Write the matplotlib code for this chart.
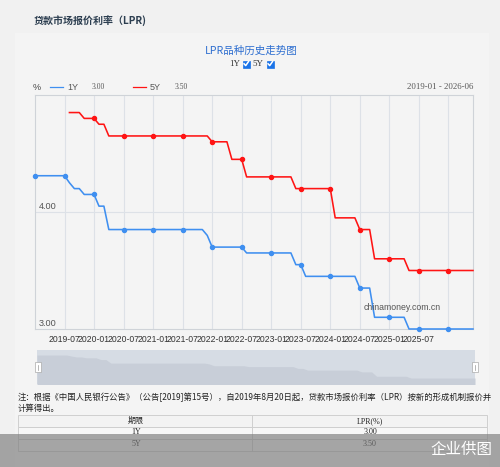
import numpy as np
import pandas as pd
import matplotlib
matplotlib.use('Agg')
import matplotlib.pyplot as plt
from matplotlib.patches import Rectangle
from matplotlib.lines import Line2D

plt.rcParams['font.family'] = ['Liberation Sans', 'Noto Sans CJK SC', 'DejaVu Sans']
CJK = ['Noto Sans CJK SC', 'DejaVu Sans']
SERIF = ['Liberation Serif', 'Noto Sans CJK SC']

# monthly LPR (%), 2019-01 .. 2026-06
months = pd.period_range('2019-01', '2026-06', freq='M')
lpr_1y = [
    4.31, 4.31, 4.31, 4.31, 4.31, 4.31, 4.31, 4.25, 4.20, 4.20, 4.15, 4.15,  # 2019
    4.15, 4.05, 4.05, 3.85, 3.85, 3.85, 3.85, 3.85, 3.85, 3.85, 3.85, 3.85,  # 2020
    3.85, 3.85, 3.85, 3.85, 3.85, 3.85, 3.85, 3.85, 3.85, 3.85, 3.85, 3.80,  # 2021
    3.70, 3.70, 3.70, 3.70, 3.70, 3.70, 3.70, 3.65, 3.65, 3.65, 3.65, 3.65,  # 2022
    3.65, 3.65, 3.65, 3.65, 3.65, 3.55, 3.55, 3.45, 3.45, 3.45, 3.45, 3.45,  # 2023
    3.45, 3.45, 3.45, 3.45, 3.45, 3.45, 3.35, 3.35, 3.35, 3.10, 3.10, 3.10,  # 2024
    3.10, 3.10, 3.10, 3.10, 3.00, 3.00, 3.00, 3.00, 3.00, 3.00, 3.00, 3.00,  # 2025
    3.00, 3.00, 3.00, 3.00, 3.00, 3.00,                                      # 2026
]
nan = np.nan
lpr_5y = [
    nan, nan, nan, nan, nan, nan, nan, 4.85, 4.85, 4.85, 4.80, 4.80,         # 2019
    4.80, 4.75, 4.75, 4.65, 4.65, 4.65, 4.65, 4.65, 4.65, 4.65, 4.65, 4.65,  # 2020
    4.65, 4.65, 4.65, 4.65, 4.65, 4.65, 4.65, 4.65, 4.65, 4.65, 4.65, 4.65,  # 2021
    4.60, 4.60, 4.60, 4.60, 4.45, 4.45, 4.45, 4.30, 4.30, 4.30, 4.30, 4.30,  # 2022
    4.30, 4.30, 4.30, 4.30, 4.30, 4.20, 4.20, 4.20, 4.20, 4.20, 4.20, 4.20,  # 2023
    4.20, 3.95, 3.95, 3.95, 3.95, 3.95, 3.85, 3.85, 3.85, 3.60, 3.60, 3.60,  # 2024
    3.60, 3.60, 3.60, 3.60, 3.50, 3.50, 3.50, 3.50, 3.50, 3.50, 3.50, 3.50,  # 2025
    3.50, 3.50, 3.50, 3.50, 3.50, 3.50,                                      # 2026
]
series_names = ['1Y', '5Y']
series_colors = ['#3f8ff0', '#ff1414']

W, H = 500, 467
fig = plt.figure(figsize=(W / 100, H / 100), dpi=100)
fig.patch.set_facecolor('#f1f1f1')


def fx(x):
    return x / W


def fy(y):
    return 1 - y / H


def T(x, y, s, **kw):
    return fig.text(fx(x), fy(y), s, **kw)


# inner panel
fig.patches.append(Rectangle((fx(15), 0), fx(474), fy(33), transform=fig.transFigure,
                             facecolor='#f4f4f4', edgecolor='none', zorder=-10))

T(34, 21, '贷款市场报价利率（LPR)', family=CJK, fontsize=7.2, color='#2c3e50',
  weight='bold', va='center')
T(251, 50.5, 'LPR品种历史走势图', family=CJK, fontsize=7.6, color='#2f6fd0',
  ha='center', va='center')

# checkbox row
T(240, 64, '1Y', family=SERIF, fontsize=6.5, color='#333333', ha='right', va='center')
T(263, 64, '5Y', family=SERIF, fontsize=6.5, color='#333333', ha='right', va='center')
for bx in (242.5, 266.5):
    fig.patches.append(Rectangle((fx(bx), fy(67.5)), fx(7.5), 7 / H, transform=fig.transFigure,
                                 facecolor='#1a73e8', edgecolor='#1a73e8', lw=0.5, zorder=3))
    fig.lines.append(Line2D([fx(bx + 1.6), fx(bx + 3.2), fx(bx + 6)],
                            [fy(63.8), fy(65.6), fy(61.6)], transform=fig.transFigure,
                            color='white', lw=1.1, zorder=4))

# legend row above plot
last_1y = lpr_1y[-1]
last_5y = lpr_5y[-1]
T(33, 87, '%', fontsize=6.5, color='#444444', va='center')
for (lx, name, val, col) in [(50, series_names[0], last_1y, series_colors[0]),
                             (133, series_names[1], last_5y, series_colors[1])]:
    fig.lines.append(Line2D([fx(lx), fx(lx + 13)], [fy(87), fy(87)], transform=fig.transFigure,
                            color=col, lw=0.9))
    T(lx + 17, 87, name, fontsize=6.5, color='#555555', va='center')
    T(lx + 42, 87, f'{val:.2f}', family=SERIF, fontsize=5.5, color='#555555', va='center')
T(473, 87, f'{months[0]} - {months[-1]}', family=SERIF, fontsize=6.3, color='#555555',
  ha='right', va='center')

# main chart
x = np.arange(len(months))
ax = fig.add_axes([fx(35), fy(329), fx(438), 234 / H])
ax.set_facecolor('none')
ax.set_xlim(0, len(months) - 1)
ax.set_ylim(3.0, 5.0)
for s in ax.spines.values():
    s.set_color('#cfd3d8')
    s.set_linewidth(0.8)

tick_idx = [i for i, p in enumerate(months) if p.month in (1, 7) and i > 0]
tick_lab = [str(months[i]) if i < 84 else '' for i in tick_idx]
ax.set_xticks(tick_idx)
ax.set_xticklabels(tick_lab, fontsize=6.2, color='#333333')
ax.set_yticks([4.0])
ax.set_yticklabels([])
ax.tick_params(axis='both', length=0, pad=4.5)
ax.grid(True, color='#dde1e7', lw=0.8)
ax.set_axisbelow(True)
for v in (3.0, 4.0):
    ax.annotate(f'{v:.2f}', (0, v), xytext=(3, 0.5), textcoords='offset points',
                fontsize=6.6, color='#555555', va='bottom', ha='left')

mark_idx = [i for i, p in enumerate(months) if p.month in (1, 7)]
for vals, col in [(lpr_1y, series_colors[0]), (lpr_5y, series_colors[1])]:
    v = np.array(vals)
    ax.plot(x, v, color=col, lw=1.15, clip_on=False, zorder=3)
    ax.plot(x[mark_idx], v[mark_idx], 'o', color=col, ms=2.9, mec=col, clip_on=False, zorder=4)

ax.text(0.838, 0.09, 'chinamoney.com.cn', transform=ax.transAxes, fontsize=6.3,
        color='#555555', ha='center', va='center')

# navigator
nav = fig.add_axes([fx(37), fy(384), fx(438), 34 / H])
nav.set_facecolor('#d6dce4')
nav.fill_between(x, lpr_1y, 2.0, color='#c8ced8', lw=0)
nav.set_xlim(0, len(months) - 1)
nav.set_ylim(2.66, 4.595)
nav.set_xticks([])
nav.set_yticks([])
for s in nav.spines.values():
    s.set_visible(False)
for hx in (35, 472):
    fig.patches.append(Rectangle((fx(hx), fy(372)), fx(5.5), 10 / H, transform=fig.transFigure,
                                 facecolor='white', edgecolor='#aaaaaa', lw=0.5, zorder=5))
    fig.lines.append(Line2D([fx(hx + 2.75)] * 2, [fy(364.5), fy(369.5)],
                            transform=fig.transFigure, color='#999999', lw=0.5, zorder=6))

# note
T(18, 397.5, '注：根据《中国人民银行公告》（公告[2019]第15号），自2019年8月20日起，贷款市场报价利率（LPR）按新的形成机制报价并',
  family=CJK, fontsize=6.0, color='#222222', va='center')
T(18, 408.5, '计算得出。', family=CJK, fontsize=6.0, color='#222222', va='center')

# table
rows = [('期限', 'LPR(%)'), (series_names[0], f'{last_1y:.2f}'), (series_names[1], f'{last_5y:.2f}')]
row_y = [415, 426.5, 438.5, 450.5]
for r, (a, b) in enumerate(rows):
    y0, y1 = row_y[r], row_y[r + 1]
    fig.patches.append(Rectangle((fx(18), fy(y1)), fx(469), (y1 - y0) / H,
                                 transform=fig.transFigure,
                                 facecolor='#f3f3f3' if r == 0 else '#f7f7f7',
                                 edgecolor='#cfcfcf', lw=0.7, zorder=1))
    fam = CJK if r == 0 else SERIF
    T(136, (y0 + y1) / 2, a, family=fam, fontsize=5.8, color='#222222', ha='center', va='center')
    T(370, (y0 + y1) / 2, b, family=SERIF, fontsize=5.8, color='#222222', ha='center', va='center')
fig.lines.append(Line2D([fx(252)] * 2, [fy(415), fy(450.5)], transform=fig.transFigure,
                        color='#cfcfcf', lw=0.7, zorder=2))

# bottom overlay banner
fig.patches.append(Rectangle((0, 0), 1, (H - 433.5) / H, transform=fig.transFigure,
                             facecolor='#7a7a7a', alpha=0.65, edgecolor='none', zorder=20))
T(492, 449.5, '企业供图', family=CJK, fontsize=11.2, color='white', ha='right', va='center',
  zorder=21)

fig.savefig('out.png', dpi=100, facecolor=fig.get_facecolor())
